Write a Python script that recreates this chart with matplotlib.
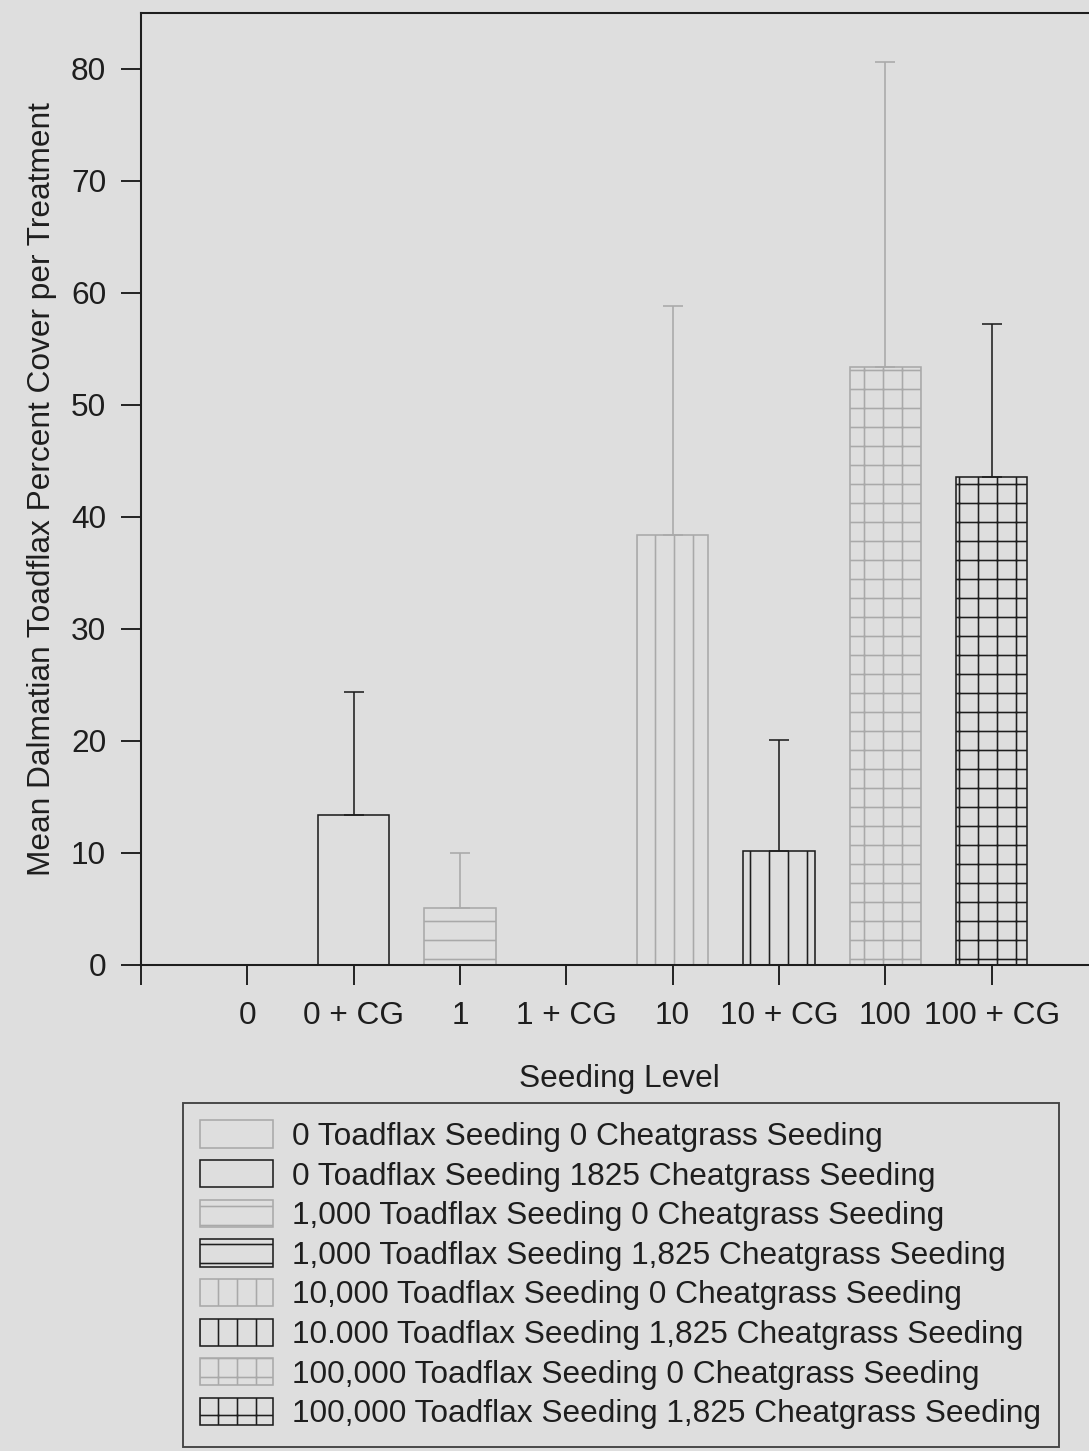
import numpy as np
import matplotlib
matplotlib.use('Agg')
import matplotlib.pyplot as plt

# data
levels = ['0', '0 + CG', '1', '1 + CG', '10', '10 + CG', '100', '100 + CG']
means = [0.0, 13.4, 5.1, 0.0, 38.4, 10.2, 53.4, 43.6]
err_up = [0.0, 11.0, 4.9, 0.0, 20.4, 9.9, 27.2, 13.6]
series = ['0 Toadflax Seeding 0 Cheatgrass Seeding',
          '0 Toadflax Seeding 1825 Cheatgrass Seeding',
          '1,000 Toadflax Seeding 0 Cheatgrass Seeding',
          '1,000 Toadflax Seeding 1,825 Cheatgrass Seeding',
          '10,000 Toadflax Seeding 0 Cheatgrass Seeding',
          '10.000 Toadflax Seeding 1,825 Cheatgrass Seeding',
          '100,000 Toadflax Seeding 0 Cheatgrass Seeding',
          '100,000 Toadflax Seeding 1,825 Cheatgrass Seeding']

hatches = ['', '', '-', '-', '|', '|', '+', '+']
colors = ['#a9a9a9', '#1e1e1e'] * 4
bg = '#dedede'

plt.rcParams['font.family'] = ['Liberation Sans', 'DejaVu Sans']
plt.rcParams['hatch.linewidth'] = 1.0

DPI = 114
fig = plt.figure(figsize=(1089 / DPI, 1451 / DPI), dpi=DPI, facecolor=bg)
ax = fig.add_axes([141 / 1089, 1 - 965 / 1451, (1098 - 141) / 1089, (965 - 13) / 1451])
ax.set_facecolor(bg)

x = np.arange(1, len(levels) + 1)
for i in range(len(levels)):
    ax.bar(x[i], means[i], width=0.67, facecolor='none', edgecolor=colors[i],
           hatch=hatches[i], linewidth=1.0, label=series[i], zorder=2)
    if means[i] > 0:
        ax.errorbar(x[i], means[i], yerr=[[0], [err_up[i]]], fmt='none',
                    ecolor=colors[i], elinewidth=1.0, capsize=6.5, capthick=1.0, zorder=3)

ax.set_xlim(0, 9)
ax.set_ylim(0, 85)
ax.set_xticks(range(0, 9))
ax.set_xticklabels([''] + levels)
ax.set_yticks(range(0, 81, 10))
ax.tick_params(axis='both', direction='out', length=12.5, width=1.2, colors='#1e1e1e',
               labelsize=20)
ax.tick_params(axis='x', pad=10)
ax.tick_params(axis='y', pad=9.5)
for s in ['left', 'top', 'bottom', 'right']:
    ax.spines[s].set_linewidth(1.3)
    ax.spines[s].set_color('#1e1e1e')

ax.set_xlabel('Seeding Level', fontsize=20, labelpad=21, color='#1e1e1e')
ax.set_ylabel('Mean Dalmatian Toadflax Percent Cover per Treatment', fontsize=20,
              labelpad=9, color='#1e1e1e')

leg = fig.legend(loc='upper left', bbox_to_anchor=(183 / 1089, 1 - 1103 / 1451),
                 fontsize=20, frameon=True, fancybox=False, facecolor=bg,
                 edgecolor='#1e1e1e', handlelength=2.3, handleheight=0.95,
                 handletextpad=0.6, borderpad=0.55, labelspacing=0.255,
                 borderaxespad=0)
leg.get_frame().set_linewidth(1.2)
for t in leg.get_texts():
    t.set_color('#1e1e1e')

fig.savefig('out.png', dpi=DPI, facecolor=bg)
